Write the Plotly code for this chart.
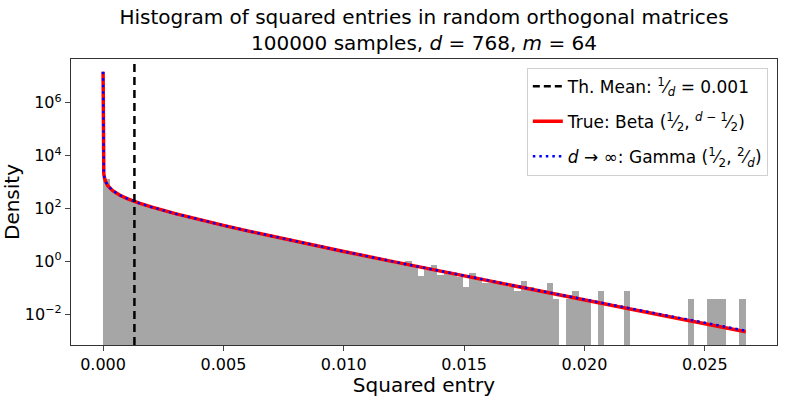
import numpy as np
import plotly.graph_objects as go

d = 768
mean_x = 1 / d

# histogram: 100 equal bins from 0 to the largest sample, density
hist_start = 0.0
hist_end = 0.0267
hist_density = [
    1310, 481, 331, 253, 201, 164, 137, 115, 97.4, 83.2,
    71.4, 61.6, 53.3, 46.4, 40.5, 35.3, 30.9, 27.1, 23.8, 20.9,
    18.4, 16.2, 14.3, 12.7, 11.2, 9.90, 8.77, 7.78, 6.90, 6.12,
    5.30, 4.70, 4.23, 3.76, 3.34, 2.97, 2.64, 2.35, 2.09, 1.80,
    1.66, 1.48, 1.32, 1.18, 1.05, 0.93, 0.83, 0.99, 0.66, 0.29,
    0.48, 0.71, 0.30, 0.38, 0.34, 0.26, 0.112, 0.375, 0.22, 0.15,
    0.15, 0.15, 0.15, 0.112, 0.075, 0.187, 0.112, 0.075, 0.075, 0.150,
    0.0375, None, 0.0375, 0.075, 0.0375, 0.0375, None, 0.075, None, None,
    None, 0.075, None, None, None, None, None, None, None, None,
    None, 0.0375, None, None, 0.0375, 0.0375, 0.0375, None, None, 0.0375,
]

# theoretical curves, sampled along x
curve_x = [5e-13, 0.00001, 0.00003, 0.00006, 0.0001, 0.0002, 0.0004, 0.0007,
           0.001, 0.0015, 0.002, 0.003, 0.004, 0.005, 0.006, 0.007, 0.008,
           0.010, 0.012, 0.014, 0.016, 0.018, 0.020, 0.022, 0.024, 0.026, 0.0267]
beta_y = [1.5e7, 3490, 2010, 1420, 1064, 724, 474, 319,
          238, 161, 115, 63.9, 37.7, 23.0, 14.3, 8.99, 5.72,
          2.37, 0.997, 0.425, 0.183, 0.0793, 0.0344, 0.0150, 0.00659, 0.00288, 0.00216]
gamma_y = [1.5e7, 3496, 2018, 1427, 1067, 726, 475, 320,
           239, 161, 115, 64.0, 37.8, 23.1, 14.35, 9.03, 5.75,
           2.38, 1.005, 0.432, 0.188, 0.0823, 0.0361, 0.0159, 0.00707, 0.00313, 0.00238]

edges = np.linspace(hist_start, hist_end, len(hist_density) + 1)
centers = (edges[:-1] + edges[1:]) / 2
bin_w = edges[1] - edges[0]

font = "DejaVu Sans"

fig = go.Figure()
fig.add_trace(go.Bar(x=centers, y=hist_density, width=bin_w,
                     marker=dict(color="#a6a6a6", line_width=0),
                     showlegend=False, hoverinfo="skip"))
fig.add_trace(go.Scatter(x=[None], y=[None], mode="lines", legendgroup="a",
                         line=dict(color="black", width=2.5, dash="7px,4px"),
                         name="Th. Mean: <sup>1</sup>⁄<sub><i>d</i></sub> = 0.001"))
fig.add_trace(go.Scatter(x=curve_x, y=beta_y, mode="lines", legendgroup="b",
                         line=dict(color="red", width=3.5),
                         name="True: Beta (<sup>1</sup>⁄<sub>2</sub>, <sup><i>d</i> − 1</sup>⁄<sub>2</sub>)"))
fig.add_trace(go.Scatter(x=curve_x, y=gamma_y, mode="lines", legendgroup="c",
                         line=dict(color="blue", width=2.5, dash="2.5px,4px"),
                         name="<i>d</i> → ∞: Gamma (<sup>1</sup>⁄<sub>2</sub>, <sup>2</sup>⁄<sub><i>d</i></sub>)"))

fig.add_shape(type="line", x0=mean_x, x1=mean_x, xref="x", yref="paper", y0=0, y1=1,
              line=dict(color="black", width=2.5, dash="8px,5px"), layer="above")

fig.update_layout(
    width=793, height=397,
    margin=dict(l=71, r=16, t=59, b=52, autoexpand=False),
    paper_bgcolor="white", plot_bgcolor="white",
    font=dict(family=font, size=16, color="black"),
    bargap=0,
    title=dict(text="Histogram of squared entries in random orthogonal matrices<br>"
                    "100000 samples, <i>d</i> = 768, <i>m</i> = 64",
               x=0.5, xref="paper", xanchor="center", y=0.94, yanchor="top",
               font=dict(size=20), automargin=False),
    legend=dict(x=0.987, y=0.97, xanchor="right", yanchor="top",
                bgcolor="rgba(255,255,255,0.8)", bordercolor="#d0d0d0", borderwidth=1,
                font=dict(size=17), itemwidth=30, tracegroupgap=10),
)
fig.update_xaxes(range=[-0.001333, 0.028], tickvals=[0, 0.005, 0.01, 0.015, 0.02, 0.025],
                 tickformat=".3f", ticks="outside", ticklen=5, tickwidth=1.2,
                 showline=True, linecolor="#333", linewidth=1.3, mirror=True,
                 showgrid=False, zeroline=False, tickfont=dict(size=16), automargin=False,
                 title=dict(text="Squared entry", font=dict(size=20), standoff=2))
fig.update_yaxes(type="log", range=[-3.165, 7.66],
                 tickvals=[1e-2, 1, 1e2, 1e4, 1e6],
                 ticktext=["10<sup>−2</sup>", "10<sup>0</sup>", "10<sup>2</sup>",
                           "10<sup>4</sup>", "10<sup>6</sup>"],
                 ticks="outside", ticklen=5, tickwidth=1.2,
                 showline=True, linecolor="#333", linewidth=1.3, mirror=True,
                 showgrid=False, zeroline=False, tickfont=dict(size=16), automargin=False,
                 title=dict(text="Density", font=dict(size=20), standoff=2))

# page body has an 8px default margin; drop it so the figure sits at the corner
fig.write_html("out.html", config={"displayModeBar": False},
               post_script="document.body.style.margin='0';")
